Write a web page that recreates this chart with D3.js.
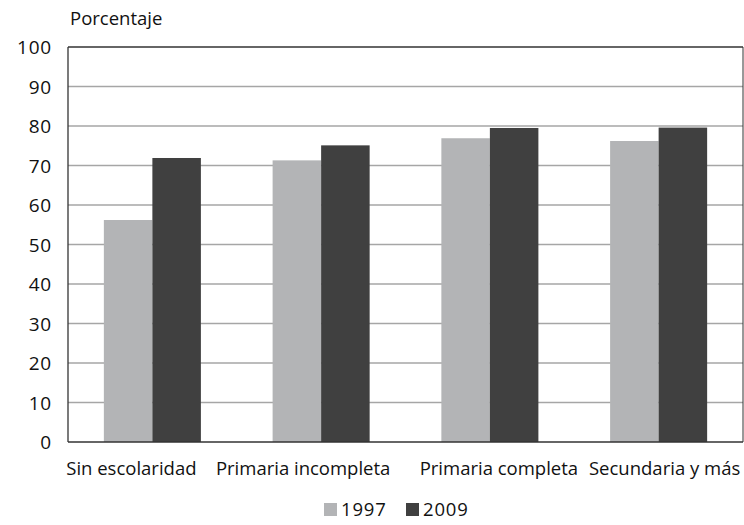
<!DOCTYPE html>
<html><head><meta charset="utf-8">
<script src="https://cdn.jsdelivr.net/npm/d3@7"></script>
<style>body{margin:0;background:#fff}svg{display:block}text{font-family:"Open Sans",sans-serif;fill:#111}</style>
</head><body><svg id="c" width="744" height="525"></svg>
<script>
const categories = ["Sin escolaridad","Primaria incompleta","Primaria completa","Secundaria y más"];
const seriesNames = ["1997","2009"];
const values1997 = [56.2, 71.3, 76.9, 76.2];
const values2009 = [71.9, 75.1, 79.5, 79.6];
const yTicks = [0,10,20,30,40,50,60,70,80,90,100];
const yTitle = "Porcentaje";

const colors = {"1997":"#b3b4b6","2009":"#404040"};
const labelNudge = [-21,-18,9,6];

const svg = d3.select("#c");
const m = {l:68, r:1, t:47, b:83};
const W = 744, H = 525;
const x = d3.scaleBand().domain(categories).range([m.l, W-m.r]).paddingInner(0).paddingOuter(0);
const y = d3.scaleLinear().domain([0,100]).range([H-m.b, m.t]);
const inner = 0.575; // group width fraction
const x1 = d3.scaleBand().domain(seriesNames).range([0, x.bandwidth()*inner]).padding(0);

// gridlines
svg.append("g").selectAll("line").data(yTicks.filter(d=>d>0&&d<100)).join("line")
  .attr("x1", m.l).attr("x2", W-m.r).attr("y1", d=>y(d)).attr("y2", d=>y(d))
  .attr("stroke","#a6a6a6").attr("stroke-width",1.3);

// bars
const data = categories.map((c,i)=>({c, v:[{s:"1997",v:values1997[i]},{s:"2009",v:values2009[i]}]}));
const g = svg.append("g").selectAll("g").data(data).join("g")
  .attr("transform", d=>`translate(${x(d.c)+x.bandwidth()*(1-inner)/2},0)`);
g.selectAll("rect").data(d=>d.v).join("rect")
  .attr("x", d=>x1(d.s)).attr("width", x1.bandwidth())
  .attr("y", d=>y(d.v)).attr("height", d=>y(0)-y(d.v))
  .attr("fill", d=>colors[d.s]);

// frame lines
svg.append("line").attr("x1",m.l).attr("x2",W-m.r).attr("y1",y(100)).attr("y2",y(100)).attr("stroke","#333").attr("stroke-width",1.3);
svg.append("line").attr("x1",m.l).attr("x2",W-m.r).attr("y1",y(0)).attr("y2",y(0)).attr("stroke","#333").attr("stroke-width",1.3);
svg.append("line").attr("x1",m.l).attr("x2",m.l).attr("y1",y(0)).attr("y2",y(100)).attr("stroke","#333").attr("stroke-width",1.3);
svg.append("line").attr("x1",W-m.r).attr("x2",W-m.r).attr("y1",y(0)).attr("y2",y(100)).attr("stroke","#333").attr("stroke-width",1);

// y axis labels
const yAxis = d3.axisLeft(y).tickValues(yTicks).tickSize(0).tickPadding(16);
const ya = svg.append("g").attr("transform",`translate(${m.l},0)`).call(yAxis);
ya.select(".domain").remove();
ya.selectAll("text").attr("font-size",19).attr("letter-spacing",0.8).attr("font-family","Open Sans, sans-serif").attr("fill","#111").attr("dy","0.36em");

svg.append("text").attr("x",70).attr("y",25).attr("font-size",18.5).text(yTitle);

// x labels
const xAxis = d3.axisBottom(x).tickSize(0).tickPadding(20);
const xa = svg.append("g").attr("transform",`translate(0,${y(0)})`).call(xAxis);
xa.select(".domain").remove();
xa.selectAll("text").attr("font-size",18.5).attr("font-family","Open Sans, sans-serif").attr("fill","#111")
  .attr("dx",(d,i)=>labelNudge[i]);

// legend
const lg = svg.append("g").attr("transform","translate(324,516)");
const items = lg.selectAll("g").data(seriesNames).join("g").attr("transform",(d,i)=>`translate(${i*82},0)`);
items.append("rect").attr("x",0).attr("y",-13).attr("width",13).attr("height",13).attr("fill",d=>colors[d]);
items.append("text").attr("x",17).attr("y",0).attr("font-size",18.5).attr("letter-spacing",0.8).text(d=>d);
</script></body></html>
